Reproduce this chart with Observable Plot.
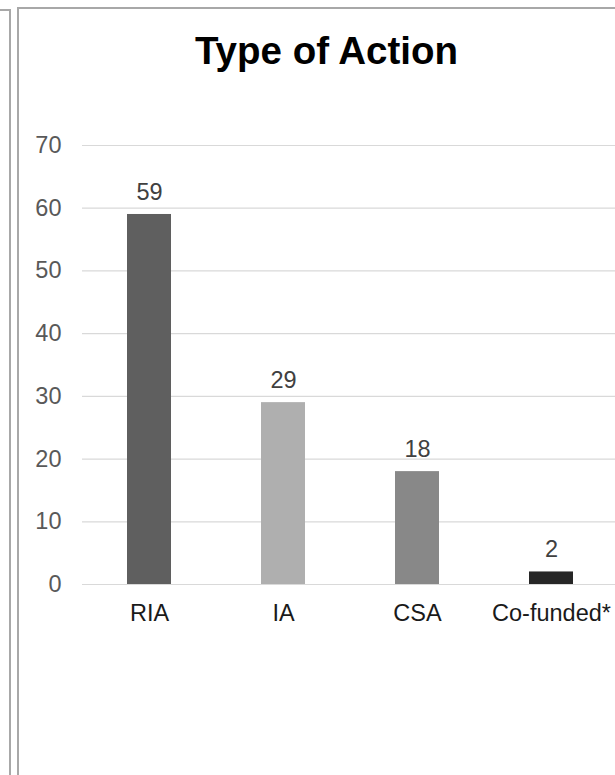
<!DOCTYPE html>
<html>
<head>
<meta charset="utf-8">
<script src="https://cdn.jsdelivr.net/npm/d3@7"></script>
<script src="https://cdn.jsdelivr.net/npm/@observablehq/plot@0.6"></script>
<style>
  html, body { margin: 0; padding: 0; background: #fff; overflow: hidden; }
  #wrap { position: relative; width: 615px; height: 775px; overflow: hidden; font-family: "Liberation Sans", Arial, sans-serif; }
  .frameA { position: absolute; left: -20px; top: 9px; width: 27px; height: 900px; border: 2px solid #a8a8a8; }
  .frameB { position: absolute; left: 17px; top: 7px; width: 800px; height: 900px; border: 2px solid #a8a8a8; }
  #title { position: absolute; left: 28px; right: -10px; top: 29px; text-align: center; font-size: 38.5px; font-weight: bold; color: #000; }
  #chart { position: absolute; left: 0; top: 0; }
</style>
</head>
<body>
<div id="wrap">
  <div class="frameA"></div>
  <div class="frameB"></div>
  <div id="chart"></div>
  <div id="title">Type of Action</div>
</div>
<script>
const categories = ["RIA", "IA", "CSA", "Co-funded*"];
const values = [59, 29, 18, 2];
const barColors = ["#5f5f5f", "#afafaf", "#888888", "#262626"];
const yTicks = [0, 10, 20, 30, 40, 50, 60, 70];

const data = categories.map((c, i) => ({category: c, value: values[i], color: barColors[i]}));

const chart = Plot.plot({
  width: 615,
  height: 775,
  marginTop: 145,
  marginBottom: 191,
  marginLeft: 82,
  marginRight: 0,
  style: {background: "transparent", fontFamily: "Liberation Sans, Arial, sans-serif", overflow: "visible"},
  x: {domain: categories, range: [82, 618], paddingInner: 0.672, paddingOuter: 0.336, label: null},
  y: {domain: [0, 70], label: null},
  marks: [
    Plot.ruleY(yTicks, {stroke: "#d9d9d9", strokeWidth: 1.2}),
    Plot.barY(data, {x: "category", y: "value", fill: "color"}),
    Plot.text(data, {x: "category", y: "value", text: d => String(d.value), dy: -22, lineAnchor: "middle", fontSize: 23.5, fill: "#404040"}),
    Plot.axisY(yTicks, {tickSize: 0, tickPadding: 21, fontSize: 23.5, color: "#595959", label: null, textAnchor: "end"}),
    Plot.axisX({tickSize: 0, tickPadding: 20, fontSize: 23.5, color: "#1a1a1a", label: null})
  ]
});
document.getElementById("chart").appendChild(chart);
</script>
</body>
</html>
